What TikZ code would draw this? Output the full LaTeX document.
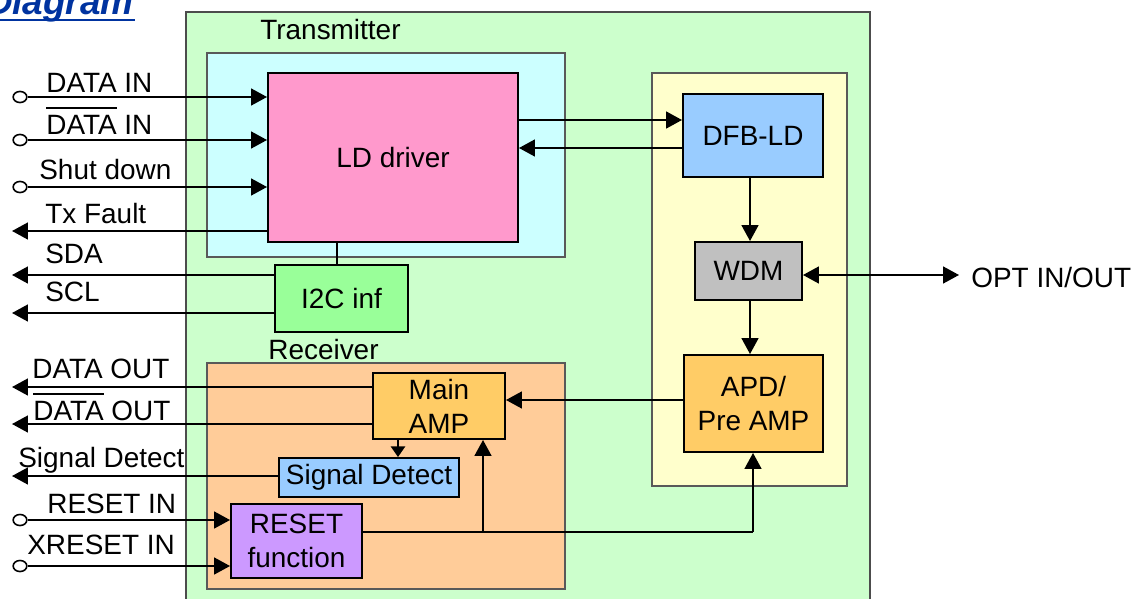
\documentclass[tikz,border=0pt]{standalone}
\usepackage{fontspec}
\setmainfont{Liberation Sans}
\usetikzlibrary{arrows.meta,fit,shapes.geometric}
\newcommand{\ovl}[1]{\leavevmode\vbox{\hrule height 1.1pt\kern 3.2pt\hbox{#1}}}
\tikzset{
  px/.style={x=0.02cm,y=-0.02cm},
  txt/.style={font=\fontsize{15.9}{19.3}\selectfont, inner sep=0pt},
  lbl/.style={txt, anchor=base west},
  cont/.style={draw=black!65, line width=0.7pt},
  blk/.style={draw=black, line width=1.1pt, inner sep=0pt},
  btxt/.style={txt, align=center},
  con/.style={draw=black, line width=1.1pt},
  arr/.style={con, -{Triangle[length=9pt,width=9.5pt]}},
  darr/.style={con, {Triangle[length=9pt,width=9.5pt]}-{Triangle[length=9pt,width=9.5pt]}},
  term/.style={ellipse, draw=black, fill=white, line width=0.9pt, minimum width=7.8pt, minimum height=6.3pt, inner sep=0pt},
}
\definecolor{cgreen}{HTML}{CCFFCC}
\definecolor{ccyan}{HTML}{CCFFFF}
\definecolor{cpink}{HTML}{FF99CC}
\definecolor{cyellow}{HTML}{FFFFCC}
\definecolor{cblue}{HTML}{99CCFF}
\definecolor{cgray}{HTML}{C0C0C0}
\definecolor{camp}{HTML}{FFCC66}
\definecolor{ci2c}{HTML}{99FF99}
\definecolor{corange}{HTML}{FFCC99}
\definecolor{cviolet}{HTML}{CC99FF}
\definecolor{ctitle}{HTML}{0033A0}
\begin{document}
\begin{tikzpicture}[px]
\useasboundingbox (0,0) rectangle (1141,598);
% title (cut off by page edge, as in the source)
\node[anchor=base east, inner sep=0pt, text=ctitle, font=\fontsize{21}{24}\selectfont\bfseries\itshape] (title) at (134,15) {Diagram};
\fill[ctitle] (0,19) rectangle (135,21);
% containers
\draw[draw=black!70, line width=1pt, fill=cgreen] (186,12) rectangle (870,610);
\node[lbl] (txlabel) at (260,40) {Transmitter};
\draw[cont, fill=ccyan] (207,53) rectangle (565,257);
\draw[cont, fill=cyellow] (652,73) rectangle (847,486);
\node[lbl] (rxlabel) at (268,359) {Receiver};
\draw[cont, fill=corange] (207,363) rectangle (565,589);
% blocks
\node[blk, fill=cpink, fit={(268,73) (518,242)}, label={[btxt]center:LD driver}] (ld) {};
\node[blk, fill=cblue, fit={(683,94) (823,177)}, label={[btxt]center:DFB-LD}] (dfb) {};
\node[blk, fill=cgray, fit={(695,242) (802,300)}, label={[btxt]center:WDM}] (wdm) {};
\node[blk, fill=camp, fit={(684,355) (823,452)}, label={[btxt]center:APD/\\Pre AMP}] (apd) {};
\node[blk, fill=ci2c, fit={(275,265) (408,332)}, label={[btxt]center:I2C inf}] (i2c) {};
\node[blk, fill=camp, fit={(373,373) (505,439)}, label={[btxt]center:Main\\AMP}] (amp) {};
\node[blk, fill=cblue, fit={(279,458) (459,497)}, label={[btxt]center:Signal Detect}] (sd) {};
\node[blk, fill=cviolet, fit={(231,504) (362,578)}, label={[btxt]center:RESET\\function}] (rst) {};
% terminals and ends
\node[term] (t1) at (20,97) {};
\node[term] (t2) at (20,140) {};
\node[term] (t3) at (20,187) {};
\node[term] (t4) at (20,520) {};
\node[term] (t5) at (20,566) {};
\coordinate (o1) at (12,231);
\coordinate (o2) at (12,275);
\coordinate (o3) at (12,313);
\coordinate (o4) at (12,387);
\coordinate (o5) at (12,424);
\coordinate (o6) at (12,476);
\coordinate (opt) at (959,275);
\coordinate (jn) at (483,532);
\coordinate (jr) at (753,532);
% inputs to LD driver
\draw[arr] (t1) -- (ld.west |- t1);
\draw[arr] (t2) -- (ld.west |- t2);
\draw[arr] (t3) -- (ld.west |- t3);
\draw[arr] (ld.west |- o1) -- (o1);
\draw[arr] (i2c.west |- o2) -- (o2);
\draw[arr] (i2c.west |- o3) -- (o3);
\draw[con, line width=0.8pt] (ld.south -| 337,0) -- (i2c.north -| 337,0);
% labels
\node[lbl] (l1) at (46,92) {DATA IN};
\node[lbl] (l2) at (46,134) {\ovl{DATA} IN};
\node[lbl] (l3) at (39,179) {Shut down};
\node[lbl] (l4) at (45,223) {Tx Fault};
\node[lbl] (l5) at (45,263) {SDA};
\node[lbl] (l6) at (45,301) {SCL};
\node[lbl] (l7) at (32,378) {DATA OUT};
\node[lbl] (l8) at (33,420) {\ovl{DATA} OUT};
\node[lbl] (l9) at (18,467) {Signal Detect};
\node[lbl] (l10) at (47,513) {RESET IN};
\node[lbl] (l11) at (27,554) {XRESET IN};
\node[lbl] (l12) at (971,287) {OPT IN/OUT};
% transmitter path
\draw[arr] (ld.east |- 0,120) -- (dfb.west |- 0,120);
\draw[arr] (dfb.west |- 0,148) -- (ld.east |- 0,148);
\draw[arr] (dfb.south -| 750,0) -- (wdm.north -| 750,0);
\draw[darr] (wdm.east |- opt) -- (opt);
\draw[arr] (wdm.south -| 750,0) -- (apd.north -| 750,0);
% receiver path
\draw[arr] (apd.west |- 0,400) -- (amp.east |- 0,400);
\draw[arr] (amp.west |- o4) -- (o4);
\draw[arr] (amp.west |- o5) -- (o5);
\draw[con, -{Triangle[length=6pt,width=8pt]}] (amp.south -| 398,0) -- (sd.north -| 398,0);
\draw[arr] (sd.west |- o6) -- (o6);
\draw[arr] (t4) -- (rst.west |- t4);
\draw[arr] (t5) -- (rst.west |- t5);
\draw[con] (rst.east |- jn) -- (jr);
\draw[arr] (jr) -- (apd.south -| jr);
\draw[arr] (jn) -- (amp.south -| jn);
\end{tikzpicture}
\end{document}
